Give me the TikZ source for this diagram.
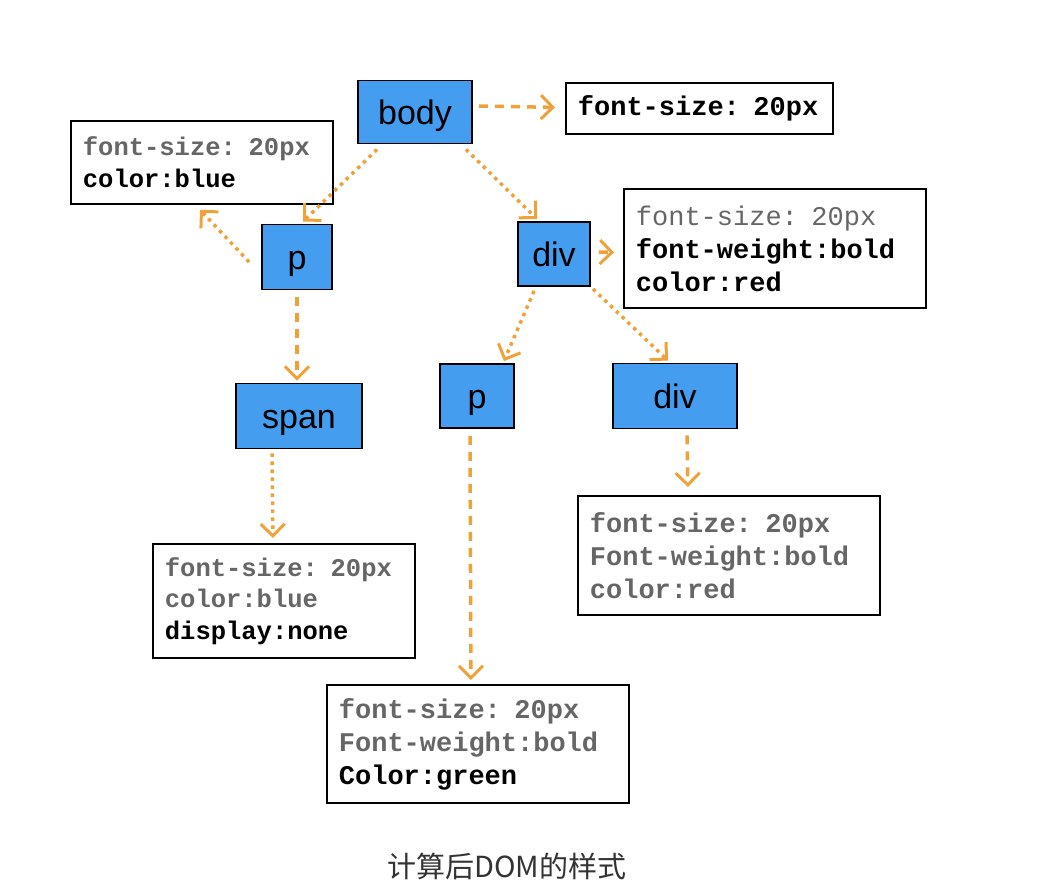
\documentclass[tikz,border=0pt]{standalone}
\usepackage{fontspec}
\setsansfont{Liberation Sans}
\setmonofont{Liberation Mono}
\newfontfamily\cjkfont{Noto Sans CJK SC}
\usetikzlibrary{arrows.meta}
\definecolor{tagblue}{RGB}{68,157,238}
\definecolor{flow}{RGB}{240,162,58}
\definecolor{faded}{RGB}{102,102,102}
\newcommand{\tagfont}{\sffamily\fontsize{34}{40}\selectfont}
\newcommand{\propfont}{\ttfamily\bfseries\fontsize{27}{33}\selectfont}
\newcommand{\propsmall}{\ttfamily\bfseries\fontsize{25.5}{31.5}\selectfont}
\newcommand{\inherit}[1]{\textcolor{faded}{#1}}
\begin{document}
\begin{tikzpicture}[x=1pt, y=-1pt, line join=miter,
    tag/.style={draw, line width=1.8pt, fill=tagblue, font=\tagfont, inner sep=0pt, text height=25pt, text depth=0pt},
    prop/.style={draw, line width=1.8pt, fill=white, anchor=north west, align=left, inner xsep=12pt, inner ysep=0pt, font=\propfont},
    dots/.style={draw=flow, line width=3.5pt, dash pattern=on 3.5pt off 4.5pt, -{Straight Barb[length=12pt,width=24pt,line width=3pt]}},
    dashes/.style={draw=flow, line width=3.5pt, dash pattern=on 9pt off 7pt, -{Straight Barb[length=12pt,width=24pt,line width=3pt]}}]
    \useasboundingbox (0,0) rectangle (1052,896);
    % tree
    \node[tag, minimum width=114pt, minimum height=63pt] (body) at (415,112) {body};
    \node[tag, minimum width=70pt, minimum height=65pt] (p1) at (297,257) {p};
    \node[tag, minimum width=72pt, minimum height=64pt] (div1) at (554,254) {div};
    \node[tag, minimum width=126pt, minimum height=65pt] (span) at (299,416) {span};
    \node[tag, minimum width=74pt, minimum height=64pt] (p2) at (477,396) {p};
    \node[tag, minimum width=124pt, minimum height=65pt] (div2) at (675,396) {div};
    % computed styles
    \node[prop, text width=243pt, minimum height=51pt] (bodybox) at (565,82) {font-size: 20px};
    \node[prop, font=\propsmall, text width=238pt, minimum height=83pt] (p1box) at (70,120)
        {\inherit{font-size: 20px}\\color:blue};
    \node[prop, text width=278pt, minimum height=119pt] (div1box) at (623,188)
        {\inherit{\mdseries font-size: 20px}\\font-weight:bold\\color:red};
    \node[prop, font=\propsmall, text width=238pt, minimum height=114pt] (spanbox) at (152,543)
        {\inherit{font-size: 20px}\\\inherit{color:blue}\\display:none};
    \node[prop, text width=278pt, minimum height=119pt] (div2box) at (577,495)
        {\inherit{font-size: 20px}\\\inherit{Font-weight:bold}\\\inherit{color:red}};
    \node[prop, text width=278pt, minimum height=118pt] (p2box) at (326,684)
        {\inherit{font-size: 20px}\\\inherit{Font-weight:bold}\\Color:green};
    % connectors
    \draw[dashes] ([shift={(6,-6)}]body.east) -- ([shift={(-10,-1)}]bodybox.west);
    \draw[dots] ([shift={(20,5)}]body.south west) -- ([shift={(6,-2)}]p1.north);
    \draw[dots] ([shift={(-12,5)}]p1.west) -- ([shift={(130,5)}]p1box.south west);
    \draw[dots] ([shift={(-7,5)}]body.south east) -- ([shift={(20,-2)}]div1.north west);
    \draw[dashes] ([shift={(8,-2)}]div1.east) -- ([shift={(-9,4)}]div1box.west);
    \draw[dashes] ([shift={(0,7)}]p1.south) -- ([shift={(-2,-2)}]span.north);
    \draw[dots] ([shift={(17,4)}]div1.south west) -- ([shift={(-11,-2)}]p2.north east);
    \draw[dots] ([shift={(2,2)}]div1.south east) -- ([shift={(-7,-2)}]div2.north);
    \draw[dots] ([shift={(-27,4)}]span.south) -- ([shift={(-11,-5)}]spanbox.north);
    \draw[dashes] ([shift={(-7,7)}]p2.south) -- ([shift={(-7,-4)}]p2box.north);
    \draw[dashes] ([shift={(12,6)}]div2.south) -- ([shift={(-41,-8)}]div2box.north);
    % caption
    \node[font=\cjkfont\fontsize{29}{34}\selectfont, text=black!80] (caption) at (507,866) {计算后DOM的样式};
\end{tikzpicture}
\end{document}
